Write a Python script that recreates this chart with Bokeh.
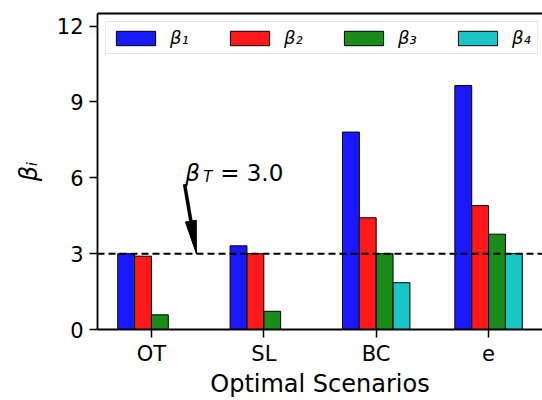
import numpy as np
from bokeh.plotting import figure
from bokeh.models import (ColumnDataSource, Range1d, FixedTicker, LinearAxis, Span,
                          Label, Legend, LegendItem)
from bokeh.transform import dodge
from bokeh.embed import file_html
from bokeh.resources import INLINE

# ---------------- data ----------------
scenarios = ["OT", "SL", "BC", "e"]
beta1 = [3.00, 3.31, 7.81, 9.65]
beta2 = [2.90, 3.00, 4.42, 4.90]
beta3 = [0.58, 0.72, 3.00, 3.77]
beta4 = [float("nan"), float("nan"), 1.85, 3.00]
series_labels = ["β₁", "β₂", "β₃", "β₄"]
y_ticks = [0, 3, 6, 9, 12]
beta_T = 3.0
annot_text_xy = (0.30, 6.2)
annot_arrow_start = (0.295, 5.75)
annot_arrow_tip = (0.40, 3.0)

# ---------------- style ----------------
colors = ["blue", "red", "green", "c"]
color_hex = {"blue": "#0000ff", "red": "#ff0000", "green": "#008000", "c": "#00bfbf"}
FONT = "DejaVu Sans"
bar_w = 0.15
x_start, x_end = -0.48, 3.48
y_start, y_end = 0.0, 12.5
W, H = 542, 400
border_left, border_right, border_top, border_bottom = 97, 0, 13, 71
frame_w = W - border_left - border_right
frame_h = H - border_top - border_bottom

x_idx = np.arange(len(scenarios))
source = ColumnDataSource(data=dict(x=x_idx, b1=beta1, b2=beta2, b3=beta3,
                                    b4=np.array(beta4, dtype=float)))

p = figure(width=W, height=H, output_backend="svg", toolbar_location=None,
           x_range=Range1d(x_start, x_end), y_range=Range1d(y_start, y_end),
           min_border_left=border_left, min_border_right=border_right,
           min_border_top=border_top, min_border_bottom=border_bottom,
           background_fill_color="white", border_fill_color="white")
p.outline_line_color = None
p.xgrid.visible = False
p.ygrid.visible = False

renderers = []
cols = ["b1", "b2", "b3", "b4"]
for i, (col, c) in enumerate(zip(cols, colors)):
    off = (i - 1.5) * bar_w
    r = p.vbar(x=dodge("x", off, range=p.x_range), top=col, bottom=0, width=bar_w,
               source=source, fill_color=color_hex[c], fill_alpha=0.9,
               line_color="black", line_width=1)
    renderers.append(r)

# axes
for ax in (p.xaxis[0], p.yaxis[0]):
    ax.axis_line_width = 1.8
    ax.axis_line_color = "black"
    ax.major_tick_line_width = 1.5
    ax.major_tick_out = 8
    ax.major_tick_in = 0
    ax.minor_tick_line_color = None
    ax.major_label_text_font = FONT
    ax.major_label_text_font_size = "21px"
    ax.major_label_text_color = "black"
    ax.axis_label_text_font = FONT
    ax.axis_label_text_font_size = "24px"
    ax.axis_label_text_color = "black"

p.xaxis.ticker = FixedTicker(ticks=list(x_idx))
p.xaxis.major_label_overrides = {int(i): s for i, s in enumerate(scenarios)}
p.xaxis.axis_label = "Optimal Scenarios"
p.xaxis.axis_label_text_font_style = "normal"
p.xaxis.major_label_standoff = 4
p.xaxis.axis_label_standoff = 1

p.yaxis.ticker = FixedTicker(ticks=y_ticks)
p.yaxis.axis_label = "βᵢ"
p.yaxis.axis_label_text_font_style = "italic"
p.yaxis.major_label_standoff = 6
p.yaxis.axis_label_standoff = 11

top_axis = LinearAxis(ticker=FixedTicker(ticks=[]), axis_line_width=1.8,
                      axis_line_color="black", major_tick_line_color=None,
                      minor_tick_line_color=None, major_label_text_font_size="0px")
p.add_layout(top_axis, "above")

# threshold line
p.add_layout(Span(location=beta_T, dimension="width", line_color="black",
                  line_dash="7 4", line_width=2))

# annotation text
tx, ty = annot_text_xy
p.add_layout(Label(x=tx, y=ty, text="β", text_font=FONT, text_font_size="23px",
                   text_font_style="italic", text_baseline="alphabetic",
                   text_color="black"))
p.add_layout(Label(x=tx, y=ty, text="T", text_font=FONT, text_font_size="15px",
                   text_font_style="italic", text_baseline="alphabetic",
                   text_color="black", x_offset=18, y_offset=-4))
p.add_layout(Label(x=tx, y=ty, text=f"= {beta_T:.1f}", text_font=FONT,
                   text_font_size="23px", text_baseline="alphabetic",
                   text_color="black", x_offset=35))

# annotation arrow (shaft + long narrow head), computed in pixel space
sx = frame_w / (x_end - x_start)
sy = frame_h / (y_end - y_start)
S = np.array([annot_arrow_start[0] * sx, annot_arrow_start[1] * sy])
T = np.array([annot_arrow_tip[0] * sx, annot_arrow_tip[1] * sy])
u = (T - S) / np.linalg.norm(T - S)
n = np.array([-u[1], u[0]])
head_len, head_hw = 33.0, 5.5
B = T - u * head_len
shaft_end = B + u * 2
p.line(x=[S[0] / sx, shaft_end[0] / sx], y=[S[1] / sy, shaft_end[1] / sy],
       line_color="black", line_width=3.5)
tri = [T, B + n * head_hw, B - n * head_hw]
p.patch(x=[q[0] / sx for q in tri], y=[q[1] / sy for q in tri],
        fill_color="black", line_color="black", line_width=1)

# legend
items = [LegendItem(label=lab, renderers=[r]) for lab, r in zip(series_labels, renderers)]
legend = Legend(items=items, orientation="horizontal", location="top_left",
                glyph_width=49, glyph_height=18, label_standoff=10, spacing=35,
                padding=5, margin=8, border_line_color="#cccccc", border_line_width=1.3,
                background_fill_alpha=0.8, label_text_font=FONT,
                label_text_font_size="18px", label_text_font_style="italic",
                label_text_color="black")
p.add_layout(legend)

open("out.html", "w").write(file_html(p, INLINE))
